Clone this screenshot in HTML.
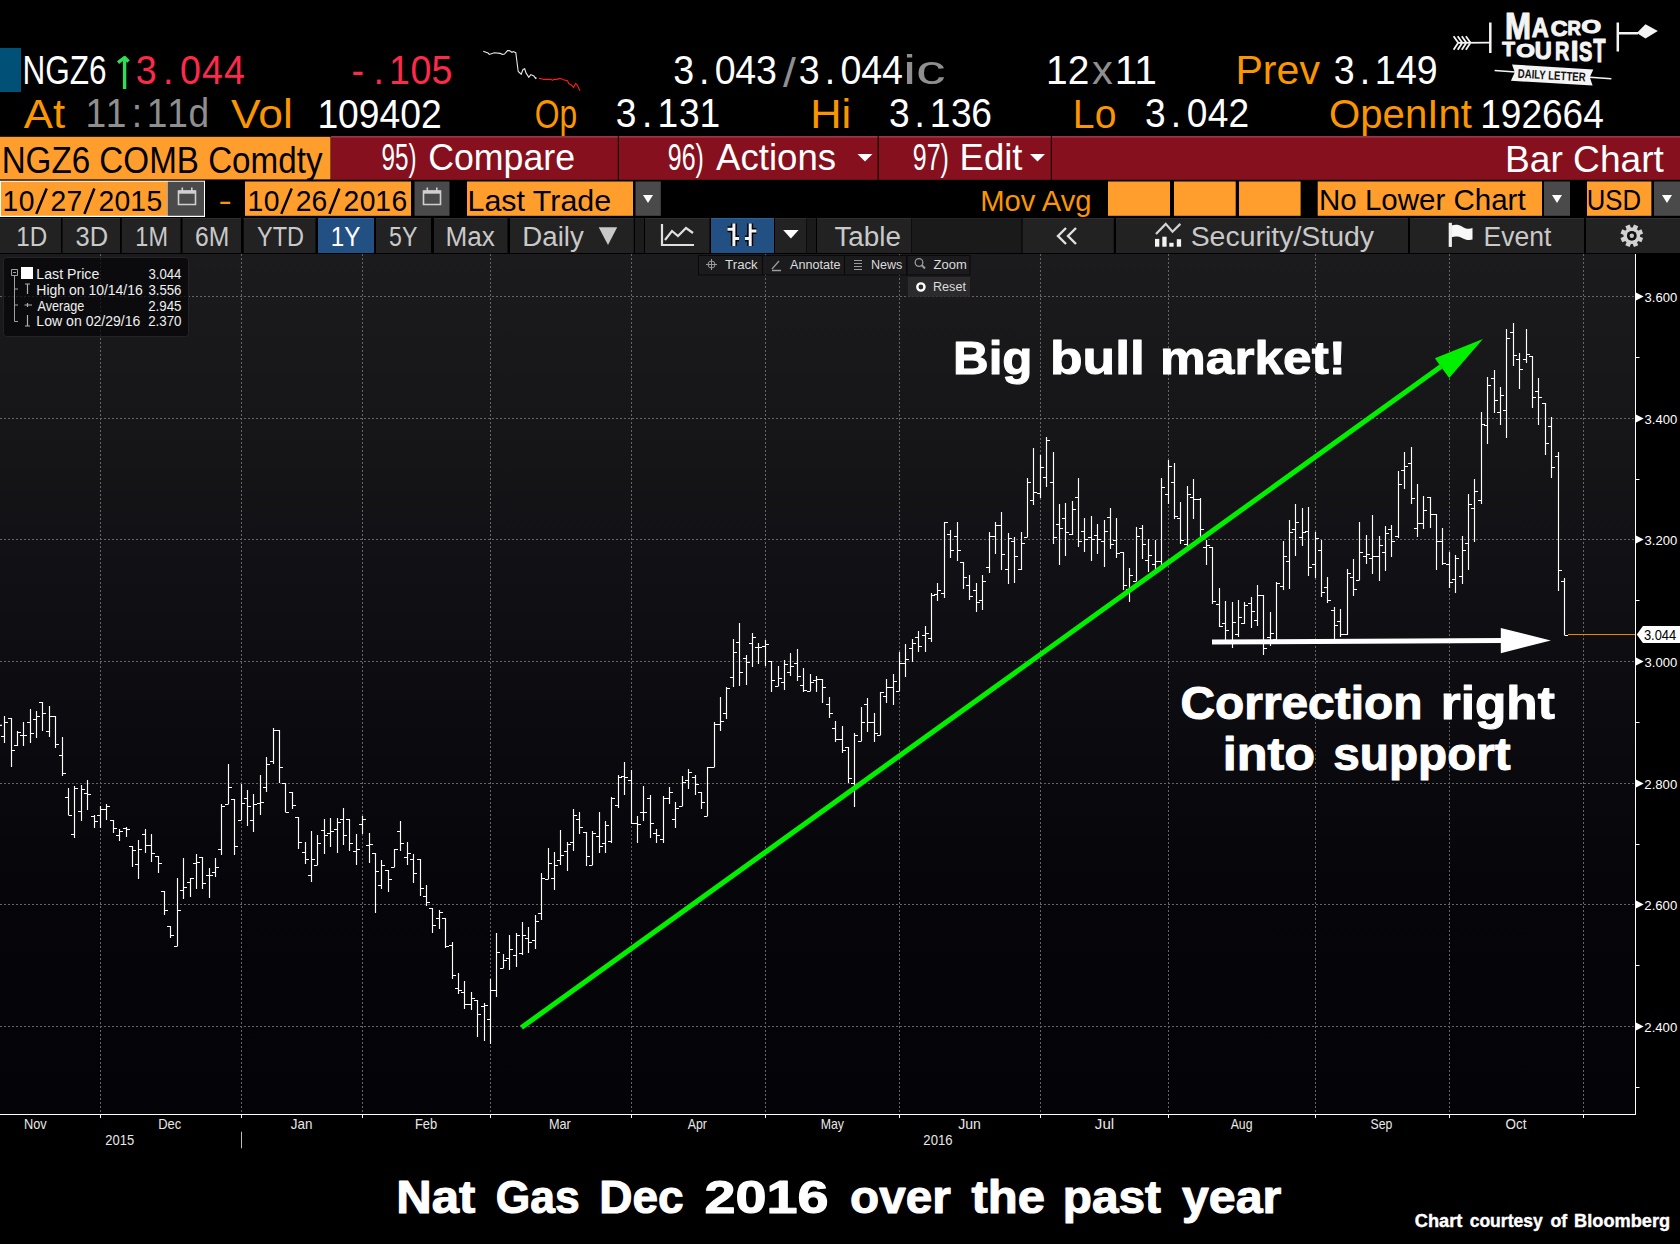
<!DOCTYPE html>
<html><head><meta charset="utf-8"><style>html,body{margin:0;padding:0;background:#000;overflow:hidden}svg{display:block}text{white-space:pre}</style></head>
<body><svg width="1680" height="1244" viewBox="0 0 1680 1244"><rect x="0.00" y="0.00" width="1680.00" height="1244.00" fill="#000" /><rect x="0.00" y="48.00" width="21.00" height="44.00" fill="#005077" /><text x="22.48" y="84.00" font-family="Liberation Sans, sans-serif" font-size="40.41" fill="#ffffff" textLength="84.06" lengthAdjust="spacingAndGlyphs">NGZ6</text><path d="M124.6 89 V58 M118 62.6 L124.6 57.6 L128.6 61.4" fill="none" stroke="#30dc58" stroke-width="3.4" stroke-linejoin="round"/><text x="146.10 175.27 193.52 217.24 240.95" y="84.00" font-family="Liberation Sans, sans-serif" font-size="40.41" fill="#ff2a4b" transform="scale(0.9300,1)">3.044</text><text x="377.95 401.62 418.22 441.48 463.93" y="84.00" font-family="Liberation Sans, sans-serif" font-size="40.41" fill="#ff2a4b" transform="scale(0.9300,1)">-.105</text><text x="723.95 751.66 768.46 790.71 812.97" y="84.00" font-family="Liberation Sans, sans-serif" font-size="40.41" fill="#ffffff" transform="scale(0.9300,1)">3.043</text><text x="783.00" y="87.00" font-family="Liberation Sans, sans-serif" font-size="40.41" fill="#8f8f8f" textLength="12.90" lengthAdjust="spacingAndGlyphs">/</text><text x="859.00 886.83 903.74 926.11 948.48" y="84.00" font-family="Liberation Sans, sans-serif" font-size="40.41" fill="#ffffff" transform="scale(0.9300,1)">3.044</text><text x="902.94" y="84.00" font-family="Liberation Sans, sans-serif" font-size="40.41" fill="#8f8f8f" textLength="42.85" lengthAdjust="spacingAndGlyphs">ic</text><text x="1046.03" y="84.00" font-family="Liberation Sans, sans-serif" font-size="40.41" fill="#ffffff" textLength="43.27" lengthAdjust="spacingAndGlyphs">12</text><text x="1092.08" y="84.00" font-family="Liberation Sans, sans-serif" font-size="40.41" fill="#8f8f8f" textLength="20.83" lengthAdjust="spacingAndGlyphs">x</text><text x="1114.65" y="84.00" font-family="Liberation Sans, sans-serif" font-size="40.41" fill="#ffffff" textLength="42.22" lengthAdjust="spacingAndGlyphs">11</text><text x="1235.46" y="84.00" font-family="Liberation Sans, sans-serif" font-size="40.41" fill="#f99600" textLength="84.54" lengthAdjust="spacingAndGlyphs">Prev</text><text x="1434.27 1462.03 1478.27 1501.18 1523.48" y="84.00" font-family="Liberation Sans, sans-serif" font-size="40.41" fill="#ffffff" transform="scale(0.9300,1)">3.149</text><path d="M483.2 51.3 L488.0 53.0 L489.4 54.4 L494.2 52.7 L500.3 53.4 L502.4 54.4 L504.5 54.0 L507.5 50.6 L509.2 50.6 L512.0 52.3 L513.4 51.6 L515.8 52.7 L516.8 60.5 L518.2 71.5 L521.2 74.2 L523.0 69.5 L524.7 68.8 L526.0 72.9 L528.8 77.3 L530.8 74.6 L533.9 76.0 L535.6 78.4 L536.6 77.7" fill="none" stroke="#e8e8e8" stroke-width="1.1" /><path d="M539.0 78.4 L541.4 78.7 L543.5 79.4 L551.0 79.4 L552.4 80.4 L553.8 79.4 L557.2 79.4 L559.2 78.4 L561.3 78.7 L563.4 79.7 L567.5 80.8 L568.8 83.8 L570.9 84.5 L573.6 87.3 L575.7 83.5 L577.7 85.9 L579.8 90.7" fill="none" stroke="#ff1a1a" stroke-width="1.1" /><text x="23.80" y="127.50" font-family="Liberation Sans, sans-serif" font-size="39.97" fill="#f99600" textLength="41.31" lengthAdjust="spacingAndGlyphs">At</text><text x="91.83 113.82 141.81 157.81 179.80 202.59" y="127.50" font-family="Liberation Sans, sans-serif" font-size="39.97" fill="#8f8f8f" transform="scale(0.9300,1)">11:11d</text><text x="231.00" y="127.50" font-family="Liberation Sans, sans-serif" font-size="39.97" fill="#f99600" textLength="61.76" lengthAdjust="spacingAndGlyphs">Vol</text><text x="317.39" y="127.50" font-family="Liberation Sans, sans-serif" font-size="39.97" fill="#ffffff" textLength="124.33" lengthAdjust="spacingAndGlyphs">109402</text><text x="534.73" y="127.50" font-family="Liberation Sans, sans-serif" font-size="39.97" fill="#f99600" textLength="42.42" lengthAdjust="spacingAndGlyphs">Op</text><text x="662.24 690.28 706.92 730.16 752.20" y="127.50" font-family="Liberation Sans, sans-serif" font-size="39.97" fill="#ffffff" transform="scale(0.9300,1)">3.131</text><text x="810.23" y="127.50" font-family="Liberation Sans, sans-serif" font-size="39.97" fill="#f99600" textLength="40.97" lengthAdjust="spacingAndGlyphs">Hi</text><text x="955.79 983.41 999.63 1022.45 1044.27" y="127.50" font-family="Liberation Sans, sans-serif" font-size="39.97" fill="#ffffff" transform="scale(0.9300,1)">3.136</text><text x="1072.87" y="127.50" font-family="Liberation Sans, sans-serif" font-size="39.97" fill="#f99600" textLength="43.55" lengthAdjust="spacingAndGlyphs">Lo</text><text x="1231.06 1258.99 1276.14 1298.67 1321.01" y="127.50" font-family="Liberation Sans, sans-serif" font-size="39.97" fill="#ffffff" transform="scale(0.9300,1)">3.042</text><text x="1329.09" y="127.50" font-family="Liberation Sans, sans-serif" font-size="39.97" fill="#f99600" textLength="142.82" lengthAdjust="spacingAndGlyphs">OpenInt</text><text x="1480.21" y="127.50" font-family="Liberation Sans, sans-serif" font-size="39.97" fill="#ffffff" textLength="123.56" lengthAdjust="spacingAndGlyphs">192664</text><rect x="0.00" y="136.80" width="330.50" height="42.60" fill="#ff9e2c" /><rect x="331.00" y="136.20" width="1349.00" height="43.60" fill="#87101e" /><rect x="331.00" y="136.20" width="1349.00" height="1.30" fill="#a04556" /><rect x="617.80" y="136.20" width="1.20" height="43.60" fill="#160205" /><rect x="877.60" y="136.20" width="1.20" height="43.60" fill="#160205" /><rect x="1050.80" y="136.20" width="1.20" height="43.60" fill="#160205" /><text x="1.65" y="172.80" font-family="Liberation Sans, sans-serif" font-size="37.79" fill="#000" textLength="320.85" lengthAdjust="spacingAndGlyphs">NGZ6 COMB Comdty</text><text x="381.43" y="170.20" font-family="Liberation Sans, sans-serif" font-size="36.77" fill="#ffffff" textLength="35.06" lengthAdjust="spacingAndGlyphs">95)</text><text x="428.22" y="170.20" font-family="Liberation Sans, sans-serif" font-size="36.77" fill="#ffffff" textLength="146.83" lengthAdjust="spacingAndGlyphs">Compare</text><text x="667.75" y="170.20" font-family="Liberation Sans, sans-serif" font-size="36.77" fill="#ffffff" textLength="36.07" lengthAdjust="spacingAndGlyphs">96)</text><text x="716.00" y="170.20" font-family="Liberation Sans, sans-serif" font-size="36.77" fill="#ffffff" textLength="120.10" lengthAdjust="spacingAndGlyphs">Actions</text><path d="M857.5 154 L872.5 154 L865 161.5 Z" fill="#ffffff" stroke="none" stroke-width="1" /><text x="912.75" y="170.20" font-family="Liberation Sans, sans-serif" font-size="36.77" fill="#ffffff" textLength="36.07" lengthAdjust="spacingAndGlyphs">97)</text><text x="959.58" y="170.20" font-family="Liberation Sans, sans-serif" font-size="36.77" fill="#ffffff" textLength="62.84" lengthAdjust="spacingAndGlyphs">Edit</text><path d="M1030 154 L1045 154 L1037.5 161.5 Z" fill="#ffffff" stroke="none" stroke-width="1" /><text x="1505.03" y="172.30" font-family="Liberation Sans, sans-serif" font-size="36.34" fill="#ffffff" textLength="158.89" lengthAdjust="spacingAndGlyphs">Bar Chart</text><rect x="0.00" y="180.70" width="205.00" height="36.30" fill="#ffffff" /><rect x="1.00" y="181.70" width="166.00" height="34.10" fill="#ff9e2c" /><rect x="167.50" y="181.70" width="36.50" height="34.10" fill="#4a4a4a" /><path d="M178.5 191 h17 v13.5 h-17 Z" fill="none" stroke="#d0d0d0" stroke-width="1.6" /><rect x="178.50" y="190.50" width="17.00" height="3.20" fill="#d0d0d0" /><rect x="181.50" y="187.50" width="1.60" height="4.00" fill="#d0d0d0" /><rect x="191.00" y="187.50" width="1.60" height="4.00" fill="#d0d0d0" /><text x="2.57 20.01 45.27 53.83 70.81 96.22 104.78 121.92 138.45 155.74" y="210.70" font-family="Liberation Sans, sans-serif" font-size="30.09" fill="#000" transform="scale(0.9400,1)">10 27 2015</text><text x="218.40" y="210.70" font-family="Liberation Sans, sans-serif" font-size="30.09" fill="#f99600" textLength="13.32" lengthAdjust="spacingAndGlyphs">-</text><rect x="245.00" y="181.50" width="166.00" height="34.30" fill="#ff9e2c" /><rect x="414.50" y="181.50" width="35.00" height="34.30" fill="#4a4a4a" /><path d="M423.5 191 h17 v13.5 h-17 Z" fill="none" stroke="#d0d0d0" stroke-width="1.6" /><rect x="423.50" y="190.50" width="17.00" height="3.20" fill="#d0d0d0" /><rect x="426.50" y="187.50" width="1.60" height="4.00" fill="#d0d0d0" /><rect x="436.00" y="187.50" width="1.60" height="4.00" fill="#d0d0d0" /><text x="263.21 280.67 305.94 314.52 331.37 356.95 365.52 382.67 399.22 416.38" y="210.70" font-family="Liberation Sans, sans-serif" font-size="30.09" fill="#000" transform="scale(0.9400,1)">10 26 2016</text><path d="M36.3 213.9 L46.7 188.5 M84.4 213.9 L94.4 188.5" fill="none" stroke="#000" stroke-width="2.5" /><path d="M281.3 213.9 L291.7 188.5 M329.4 213.9 L339.4 188.5" fill="none" stroke="#000" stroke-width="2.5" /><rect x="467.00" y="181.50" width="166.00" height="34.30" fill="#ff9e2c" /><rect x="635.50" y="181.50" width="25.30" height="34.30" fill="#4a4a4a" /><path d="M643 195 L653 195 L648 203 Z" fill="#ffffff" stroke="none" stroke-width="1" /><text x="467.58" y="210.70" font-family="Liberation Sans, sans-serif" font-size="30.09" fill="#000" textLength="143.51" lengthAdjust="spacingAndGlyphs">Last Trade</text><text x="980.20" y="210.70" font-family="Liberation Sans, sans-serif" font-size="30.09" fill="#f99600" textLength="111.42" lengthAdjust="spacingAndGlyphs">Mov Avg</text><rect x="1108.00" y="181.50" width="62.00" height="34.30" fill="#ff9e2c" /><rect x="1174.00" y="181.50" width="61.70" height="34.30" fill="#ff9e2c" /><rect x="1239.00" y="181.50" width="61.60" height="34.30" fill="#ff9e2c" /><rect x="1317.70" y="181.50" width="224.30" height="34.30" fill="#ff9e2c" /><rect x="1544.00" y="181.50" width="26.00" height="34.30" fill="#4a4a4a" /><path d="M1552 195 L1562 195 L1557 203 Z" fill="#ffffff" stroke="none" stroke-width="1" /><text x="1319.04" y="210.00" font-family="Liberation Sans, sans-serif" font-size="30.09" fill="#000" textLength="206.60" lengthAdjust="spacingAndGlyphs">No Lower Chart</text><rect x="1587.00" y="181.50" width="64.40" height="34.30" fill="#ff9e2c" /><rect x="1654.00" y="181.50" width="26.00" height="34.30" fill="#4a4a4a" /><path d="M1662 195 L1672 195 L1667 203 Z" fill="#ffffff" stroke="none" stroke-width="1" /><text x="1586.80" y="210.00" font-family="Liberation Sans, sans-serif" font-size="30.09" fill="#000" textLength="54.28" lengthAdjust="spacingAndGlyphs">USD</text><rect x="0.00" y="218.00" width="61.00" height="35.00" fill="#222222" /><rect x="0.00" y="218.00" width="61.00" height="1.00" fill="#2e2e2e" /><rect x="62.50" y="218.00" width="57.50" height="35.00" fill="#222222" /><rect x="62.50" y="218.00" width="57.50" height="1.00" fill="#2e2e2e" /><rect x="121.75" y="218.00" width="58.75" height="35.00" fill="#222222" /><rect x="121.75" y="218.00" width="58.75" height="1.00" fill="#2e2e2e" /><rect x="182.50" y="218.00" width="58.50" height="35.00" fill="#222222" /><rect x="182.50" y="218.00" width="58.50" height="1.00" fill="#2e2e2e" /><rect x="243.75" y="218.00" width="71.75" height="35.00" fill="#222222" /><rect x="243.75" y="218.00" width="71.75" height="1.00" fill="#2e2e2e" /><rect x="318.00" y="218.00" width="56.00" height="35.00" fill="#235082" /><rect x="318.00" y="218.00" width="56.00" height="1.00" fill="#2d5f98" /><rect x="376.00" y="218.00" width="55.00" height="35.00" fill="#222222" /><rect x="376.00" y="218.00" width="55.00" height="1.00" fill="#2e2e2e" /><rect x="434.00" y="218.00" width="73.50" height="35.00" fill="#222222" /><rect x="434.00" y="218.00" width="73.50" height="1.00" fill="#2e2e2e" /><rect x="510.00" y="218.00" width="123.75" height="35.00" fill="#222222" /><rect x="510.00" y="218.00" width="123.75" height="1.00" fill="#2e2e2e" /><rect x="635.00" y="218.00" width="9.00" height="35.00" fill="#1c1c1c" /><rect x="635.00" y="218.00" width="9.00" height="1.00" fill="#222" /><rect x="645.00" y="218.00" width="64.50" height="35.00" fill="#222222" /><rect x="645.00" y="218.00" width="64.50" height="1.00" fill="#2e2e2e" /><rect x="711.00" y="218.00" width="63.00" height="35.00" fill="#235082" /><rect x="711.00" y="218.00" width="63.00" height="1.00" fill="#2d5f98" /><rect x="775.00" y="218.00" width="31.00" height="35.00" fill="#222222" /><rect x="775.00" y="218.00" width="31.00" height="1.00" fill="#2e2e2e" /><rect x="806.50" y="218.00" width="9.50" height="35.00" fill="#1a1a1a" /><rect x="806.50" y="218.00" width="9.50" height="1.00" fill="#222" /><rect x="817.00" y="218.00" width="94.00" height="35.00" fill="#222222" /><rect x="817.00" y="218.00" width="94.00" height="1.00" fill="#2e2e2e" /><rect x="911.50" y="218.00" width="110.00" height="35.00" fill="#1a1a1a" /><rect x="911.50" y="218.00" width="110.00" height="1.00" fill="#222" /><rect x="1022.50" y="218.00" width="91.25" height="35.00" fill="#222222" /><rect x="1022.50" y="218.00" width="91.25" height="1.00" fill="#2e2e2e" /><rect x="1116.00" y="218.00" width="292.00" height="35.00" fill="#222222" /><rect x="1116.00" y="218.00" width="292.00" height="1.00" fill="#2e2e2e" /><rect x="1410.00" y="218.00" width="174.00" height="35.00" fill="#222222" /><rect x="1410.00" y="218.00" width="174.00" height="1.00" fill="#2e2e2e" /><rect x="1586.00" y="218.00" width="94.00" height="35.00" fill="#222222" /><rect x="1586.00" y="218.00" width="94.00" height="1.00" fill="#2e2e2e" /><text x="16.30" y="245.50" font-family="Liberation Sans, sans-serif" font-size="28.34" fill="#c9c9c9" textLength="30.97" lengthAdjust="spacingAndGlyphs">1D</text><text x="75.49" y="245.50" font-family="Liberation Sans, sans-serif" font-size="28.34" fill="#c9c9c9" textLength="32.59" lengthAdjust="spacingAndGlyphs">3D</text><text x="135.36" y="245.50" font-family="Liberation Sans, sans-serif" font-size="28.34" fill="#c9c9c9" textLength="32.61" lengthAdjust="spacingAndGlyphs">1M</text><text x="195.02" y="245.50" font-family="Liberation Sans, sans-serif" font-size="28.34" fill="#c9c9c9" textLength="34.29" lengthAdjust="spacingAndGlyphs">6M</text><text x="257.03" y="245.50" font-family="Liberation Sans, sans-serif" font-size="28.34" fill="#c9c9c9" textLength="46.96" lengthAdjust="spacingAndGlyphs">YTD</text><text x="389.07" y="245.50" font-family="Liberation Sans, sans-serif" font-size="28.34" fill="#c9c9c9" textLength="28.32" lengthAdjust="spacingAndGlyphs">5Y</text><text x="445.41" y="245.50" font-family="Liberation Sans, sans-serif" font-size="28.34" fill="#c9c9c9" textLength="49.35" lengthAdjust="spacingAndGlyphs">Max</text><text x="522.29" y="245.50" font-family="Liberation Sans, sans-serif" font-size="28.34" fill="#c9c9c9" textLength="61.46" lengthAdjust="spacingAndGlyphs">Daily</text><text x="834.44" y="245.50" font-family="Liberation Sans, sans-serif" font-size="28.34" fill="#c9c9c9" textLength="66.56" lengthAdjust="spacingAndGlyphs">Table</text><text x="1190.66" y="245.50" font-family="Liberation Sans, sans-serif" font-size="28.34" fill="#c9c9c9" textLength="183.34" lengthAdjust="spacingAndGlyphs">Security/Study</text><text x="1483.58" y="245.50" font-family="Liberation Sans, sans-serif" font-size="28.34" fill="#c9c9c9" textLength="67.76" lengthAdjust="spacingAndGlyphs">Event</text><text x="330.81" y="245.50" font-family="Liberation Sans, sans-serif" font-size="28.34" fill="#ffffff" textLength="29.61" lengthAdjust="spacingAndGlyphs">1Y</text><path d="M598.7 227.3 L617.2 227.3 L608 245 Z" fill="#c9c9c9" stroke="none" stroke-width="1" /><path d="M662 224 V245 H694 M665 240 L672 231 L678 236 L686 228 L693 233" fill="none" stroke="#e0e0e0" stroke-width="2.2" /><path d="M733.9 223.5 V246 M727.5 229.2 H733.9 M733.9 238.5 H739 M750.2 223.5 V246 M745 238.5 H750.2 M750.2 231 H756.4" fill="none" stroke="#000" stroke-width="6" /><path d="M733.9 223.5 V246 M727.5 229.2 H733.9 M733.9 238.5 H739 M750.2 223.5 V246 M745 238.5 H750.2 M750.2 231 H756.4" fill="none" stroke="#f4f4f4" stroke-width="3" /><path d="M783.2 229.9 L798.6 229.9 L790.9 238.5 Z" fill="#ffffff" stroke="none" stroke-width="1" /><path d="M1066 228 L1058 236 L1066 244 M1076 228 L1068 236 L1076 244" fill="none" stroke="#e0e0e0" stroke-width="2.4" /><path d="M1156 233.9 L1165.7 223.9 L1172.5 231.7 L1180.4 223.9" fill="none" stroke="#d4d4d4" stroke-width="2.2" stroke-linejoin="miter"/><rect x="1155.00" y="238.90" width="4.30" height="7.80" fill="#f4f4f4" /><rect x="1162.30" y="236.70" width="4.30" height="10.00" fill="#f4f4f4" /><rect x="1169.30" y="242.80" width="4.30" height="3.90" fill="#f4f4f4" /><rect x="1176.80" y="239.20" width="4.30" height="7.50" fill="#f4f4f4" /><rect x="1448.70" y="222.80" width="3.20" height="24.10" fill="#f0f0f0" /><path d="M1451.5 225.4 C1455 224.2 1459 224.4 1462 226.4 C1465 228.6 1469 229.4 1472.5 228 V239.6 C1469 240.6 1465 239.8 1462 238 C1459 236.4 1455 236.2 1451.5 237.2 Z" fill="#f8f8f8" stroke="none" stroke-width="1" /><g transform="translate(1631.8 235.8)"><circle r="8.3" fill="#d2d2d2"/><rect x="-2.3" y="-11.3" width="4.6" height="6" fill="#d2d2d2" transform="rotate(22.5)"/><rect x="-2.3" y="-11.3" width="4.6" height="6" fill="#d2d2d2" transform="rotate(67.5)"/><rect x="-2.3" y="-11.3" width="4.6" height="6" fill="#d2d2d2" transform="rotate(112.5)"/><rect x="-2.3" y="-11.3" width="4.6" height="6" fill="#d2d2d2" transform="rotate(157.5)"/><rect x="-2.3" y="-11.3" width="4.6" height="6" fill="#d2d2d2" transform="rotate(202.5)"/><rect x="-2.3" y="-11.3" width="4.6" height="6" fill="#d2d2d2" transform="rotate(247.5)"/><rect x="-2.3" y="-11.3" width="4.6" height="6" fill="#d2d2d2" transform="rotate(292.5)"/><rect x="-2.3" y="-11.3" width="4.6" height="6" fill="#d2d2d2" transform="rotate(337.5)"/><circle r="4.9" fill="#111"/><circle r="2.2" fill="#c8c8c8"/></g><defs><linearGradient id="pg" x1="0" y1="0" x2="0" y2="1"><stop offset="0" stop-color="rgb(27,27,30)"/><stop offset="0.23" stop-color="rgb(21,21,24)"/><stop offset="0.5" stop-color="rgb(13,12,17)"/><stop offset="0.73" stop-color="rgb(6,5,10)"/><stop offset="1" stop-color="rgb(4,4,8)"/></linearGradient></defs><rect x="0.00" y="254.00" width="1635.00" height="860.00" fill="url(#pg)" /><rect x="0.00" y="1114.00" width="1680.00" height="130.00" fill="#000" /><rect x="1635.00" y="254.00" width="45.00" height="860.00" fill="#000" /><line x1="0.00" y1="296.50" x2="1635.00" y2="296.50" stroke="#656565" stroke-width="1" stroke-dasharray="2 2"/><line x1="0.00" y1="418.50" x2="1635.00" y2="418.50" stroke="#656565" stroke-width="1" stroke-dasharray="2 2"/><line x1="0.00" y1="539.50" x2="1635.00" y2="539.50" stroke="#656565" stroke-width="1" stroke-dasharray="2 2"/><line x1="0.00" y1="661.50" x2="1635.00" y2="661.50" stroke="#656565" stroke-width="1" stroke-dasharray="2 2"/><line x1="0.00" y1="783.50" x2="1635.00" y2="783.50" stroke="#656565" stroke-width="1" stroke-dasharray="2 2"/><line x1="0.00" y1="904.50" x2="1635.00" y2="904.50" stroke="#656565" stroke-width="1" stroke-dasharray="2 2"/><line x1="0.00" y1="1026.50" x2="1635.00" y2="1026.50" stroke="#656565" stroke-width="1" stroke-dasharray="2 2"/><line x1="100.50" y1="254.00" x2="100.50" y2="1114.00" stroke="#656565" stroke-width="1" stroke-dasharray="2 2"/><line x1="241.50" y1="254.00" x2="241.50" y2="1114.00" stroke="#656565" stroke-width="1" stroke-dasharray="2 2"/><line x1="362.50" y1="254.00" x2="362.50" y2="1114.00" stroke="#656565" stroke-width="1" stroke-dasharray="2 2"/><line x1="490.50" y1="254.00" x2="490.50" y2="1114.00" stroke="#656565" stroke-width="1" stroke-dasharray="2 2"/><line x1="631.50" y1="254.00" x2="631.50" y2="1114.00" stroke="#656565" stroke-width="1" stroke-dasharray="2 2"/><line x1="765.50" y1="254.00" x2="765.50" y2="1114.00" stroke="#656565" stroke-width="1" stroke-dasharray="2 2"/><line x1="899.50" y1="254.00" x2="899.50" y2="1114.00" stroke="#656565" stroke-width="1" stroke-dasharray="2 2"/><line x1="1040.50" y1="254.00" x2="1040.50" y2="1114.00" stroke="#656565" stroke-width="1" stroke-dasharray="2 2"/><line x1="1168.50" y1="254.00" x2="1168.50" y2="1114.00" stroke="#656565" stroke-width="1" stroke-dasharray="2 2"/><line x1="1315.50" y1="254.00" x2="1315.50" y2="1114.00" stroke="#656565" stroke-width="1" stroke-dasharray="2 2"/><line x1="1449.50" y1="254.00" x2="1449.50" y2="1114.00" stroke="#656565" stroke-width="1" stroke-dasharray="2 2"/><line x1="1583.50" y1="254.00" x2="1583.50" y2="1114.00" stroke="#656565" stroke-width="1" stroke-dasharray="2 2"/><rect x="3.50" y="257.50" width="185.00" height="79.00" fill="rgba(6,6,9,0.72)" rx="3" stroke="#242428" stroke-width="1"/><rect x="21.00" y="267.00" width="12.00" height="12.00" fill="#ffffff" /><path d="M11.5 269.5 h6 v6 h-6 Z M13 272.5 h3" fill="none" stroke="#a0a0a0" stroke-width="1" /><path d="M14.5 275.5 V321.5 H18 M14.5 289 H18 M14.5 305 H18" fill="none" stroke="#a0a0a0" stroke-width="1" /><path d="M27.5 284 V294 M25 284 H30 M24.5 305 H32 M27.5 303 V307 M27.5 315 V326 M25 326 H30" fill="none" stroke="#b0b0b0" stroke-width="1.2" /><text x="36.37" y="278.60" font-family="Liberation Sans, sans-serif" font-size="13.81" fill="#f0f0f0" textLength="62.94" lengthAdjust="spacingAndGlyphs">Last Price</text><text x="148.41" y="278.60" font-family="Liberation Sans, sans-serif" font-size="13.81" fill="#f0f0f0" textLength="32.94" lengthAdjust="spacingAndGlyphs">3.044</text><text x="36.38" y="294.60" font-family="Liberation Sans, sans-serif" font-size="13.81" fill="#f0f0f0" textLength="106.42" lengthAdjust="spacingAndGlyphs">High on 10/14/16</text><text x="148.40" y="294.60" font-family="Liberation Sans, sans-serif" font-size="13.81" fill="#f0f0f0" textLength="33.07" lengthAdjust="spacingAndGlyphs">3.556</text><text x="37.50" y="310.70" font-family="Liberation Sans, sans-serif" font-size="13.81" fill="#f0f0f0" textLength="46.86" lengthAdjust="spacingAndGlyphs">Average</text><text x="148.13" y="310.70" font-family="Liberation Sans, sans-serif" font-size="13.81" fill="#f0f0f0" textLength="33.35" lengthAdjust="spacingAndGlyphs">2.945</text><text x="36.37" y="326.20" font-family="Liberation Sans, sans-serif" font-size="13.81" fill="#f0f0f0" textLength="104.03" lengthAdjust="spacingAndGlyphs">Low on 02/29/16</text><text x="148.13" y="326.20" font-family="Liberation Sans, sans-serif" font-size="13.81" fill="#f0f0f0" textLength="33.35" lengthAdjust="spacingAndGlyphs">2.370</text><rect x="698.00" y="255.00" width="272.40" height="20.40" fill="rgba(5,5,5,0.8)" /><rect x="699.00" y="256.00" width="63.00" height="18.50" fill="rgba(34,34,38,0.72)" /><rect x="763.00" y="256.00" width="81.00" height="18.50" fill="rgba(34,34,38,0.72)" /><rect x="845.00" y="256.00" width="61.00" height="18.50" fill="rgba(34,34,38,0.72)" /><rect x="907.50" y="256.00" width="62.00" height="18.50" fill="rgba(34,34,38,0.72)" /><rect x="907.90" y="277.00" width="62.10" height="19.80" fill="rgba(44,44,48,0.92)" /><text x="725.14" y="268.75" font-family="Liberation Sans, sans-serif" font-size="13.08" fill="#dcdcdc" textLength="32.63" lengthAdjust="spacingAndGlyphs">Track</text><text x="790.00" y="268.75" font-family="Liberation Sans, sans-serif" font-size="13.08" fill="#dcdcdc" textLength="50.46" lengthAdjust="spacingAndGlyphs">Annotate</text><text x="871.00" y="268.75" font-family="Liberation Sans, sans-serif" font-size="13.08" fill="#dcdcdc" textLength="31.38" lengthAdjust="spacingAndGlyphs">News</text><text x="933.61" y="268.75" font-family="Liberation Sans, sans-serif" font-size="13.08" fill="#dcdcdc" textLength="33.21" lengthAdjust="spacingAndGlyphs">Zoom</text><text x="932.99" y="290.70" font-family="Liberation Sans, sans-serif" font-size="13.08" fill="#dcdcdc" textLength="32.98" lengthAdjust="spacingAndGlyphs">Reset</text><path d="M706 264.5 H717 M711.5 259 V270" fill="none" stroke="#9a9a9a" stroke-width="1" /><circle cx="711.5" cy="264.5" r="3.5" fill="none" stroke="#9a9a9a" stroke-width="1"/><path d="M772 269 L779 261 M772 270.5 H781" fill="none" stroke="#9a9a9a" stroke-width="1.3" /><path d="M854 260.5 H862 M854 263.5 H862 M854 266.5 H862 M854 269.5 H862" fill="none" stroke="#9a9a9a" stroke-width="1.2" /><circle cx="919" cy="262.5" r="3.8" fill="none" stroke="#9a9a9a" stroke-width="1.3"/><path d="M921.8 265.3 L925 268.5" fill="none" stroke="#9a9a9a" stroke-width="2" /><circle cx="920.9" cy="287" r="3.6" fill="none" stroke="#ffffff" stroke-width="2.4"/><path d="M-1.5 700.0V760.0M-5.0 740.0H-1.5M-1.5 725.4H2.0M4.5 716.0V743.0M1.0 736.5H4.5M4.5 722.5H8.0M11.5 718.0V767.0M8.0 718.5H11.5M11.5 750.5H15.0M17.5 731.0V746.0M14.0 745.5H17.5M17.5 732.5H21.0M23.5 722.0V746.0M20.0 735.5H23.5M23.5 735.5H27.0M30.5 709.0V743.0M27.0 722.5H30.5M30.5 733.5H34.0M36.5 711.0V738.0M33.0 719.5H36.5M36.5 716.5H40.0M42.5 702.0V731.0M39.0 702.5H42.5M42.5 713.5H46.0M49.5 706.0V737.0M46.0 731.5H49.5M49.5 716.5H53.0M55.5 716.0V748.0M52.0 716.5H55.5M55.5 744.5H59.0M62.5 737.0V776.0M59.0 755.5H62.5M62.5 773.5H66.0M68.5 788.0V815.0M65.0 797.5H68.5M68.5 815.5H72.0M74.5 786.0V838.0M71.0 834.5H74.5M74.5 788.5H78.0M81.5 785.0V821.0M78.0 811.5H81.5M81.5 789.5H85.0M87.5 780.0V810.0M84.0 793.5H87.5M87.5 794.5H91.0M94.5 815.0V828.0M91.0 816.5H94.5M94.5 821.5H98.0M100.5 806.0V828.0M97.0 815.5H100.5M100.5 809.5H104.0M106.5 804.0V820.0M103.0 809.5H106.5M106.5 806.5H110.0M113.5 820.0V833.0M110.0 820.5H113.5M113.5 828.5H117.0M119.5 829.0V841.0M116.0 835.5H119.5M119.5 831.5H123.0M126.5 827.0V837.0M123.0 828.5H126.5M126.5 829.5H130.0M132.5 846.0V867.0M129.0 846.5H132.5M132.5 850.5H136.0M138.5 840.0V879.0M135.0 864.5H138.5M138.5 849.5H142.0M145.5 829.0V853.0M142.0 834.5H145.5M145.5 845.5H149.0M151.5 834.0V862.0M148.0 845.5H151.5M151.5 853.5H155.0M158.5 856.0V873.0M155.0 856.5H158.5M158.5 863.5H162.0M164.5 891.0V915.0M161.0 891.5H164.5M164.5 910.5H168.0M170.5 926.0V938.0M167.0 926.5H170.5M170.5 935.5H174.0M177.5 878.0V946.0M174.0 946.5H177.5M177.5 910.5H181.0M183.5 858.0V899.0M180.0 890.5H183.5M183.5 887.5H187.0M190.5 878.0V897.0M187.0 882.5H190.5M190.5 878.5H194.0M196.5 854.0V889.0M193.0 863.5H196.5M196.5 862.5H200.0M202.5 857.0V889.0M199.0 857.5H202.5M202.5 883.5H206.0M209.5 868.0V898.0M206.0 875.5H209.5M209.5 875.5H213.0M215.5 858.0V877.0M212.0 872.5H215.5M215.5 867.5H219.0M221.5 804.0V855.0M218.0 849.5H221.5M221.5 806.5H225.0M228.5 764.0V804.0M225.0 804.5H228.5M228.5 787.5H232.0M234.5 799.0V855.0M231.0 799.5H234.5M234.5 846.5H238.0M241.5 784.0V820.0M238.0 820.5H241.5M241.5 803.5H245.0M247.5 790.0V826.0M244.0 798.5H247.5M247.5 806.5H251.0M253.5 794.0V832.0M250.0 820.5H253.5M253.5 804.5H257.0M260.5 775.0V815.0M257.0 803.5H260.5M260.5 802.5H264.0M266.5 757.0V792.0M263.0 787.5H266.5M266.5 764.5H270.0M273.5 728.0V764.0M270.0 761.5H273.5M273.5 730.5H277.0M279.5 730.0V783.0M276.0 730.5H279.5M279.5 767.5H283.0M285.5 783.0V812.0M282.0 783.5H285.5M285.5 812.5H289.0M292.5 792.0V809.0M289.0 792.5H292.5M292.5 805.5H296.0M298.5 817.0V849.0M295.0 817.5H298.5M298.5 842.5H302.0M305.5 842.0V864.0M302.0 852.5H305.5M305.5 859.5H309.0M311.5 831.0V882.0M308.0 875.5H311.5M311.5 859.5H315.0M317.5 835.0V865.0M314.0 865.5H317.5M317.5 843.5H321.0M324.5 819.0V854.0M321.0 830.5H324.5M324.5 835.5H328.0M330.5 818.0V847.0M327.0 833.5H330.5M330.5 831.5H334.0M337.5 818.0V853.0M334.0 829.5H337.5M337.5 822.5H341.0M343.5 808.0V845.0M340.0 819.5H343.5M343.5 835.5H347.0M349.5 819.0V851.0M346.0 819.5H349.5M349.5 843.5H353.0M356.5 834.0V865.0M353.0 851.5H356.5M356.5 849.5H360.0M362.5 816.0V834.0M359.0 824.5H362.5M362.5 819.5H366.0M369.5 833.0V863.0M366.0 845.5H369.5M369.5 844.5H373.0M375.5 853.0V913.0M372.0 853.5H375.5M375.5 871.5H379.0M381.5 860.0V889.0M378.0 885.5H381.5M381.5 865.5H385.0M388.5 870.0V892.0M385.0 870.5H388.5M388.5 879.5H392.0M394.5 849.0V867.0M391.0 867.5H394.5M394.5 849.5H398.0M400.5 821.0V851.0M397.0 831.5H400.5M400.5 843.5H404.0M407.5 842.0V865.0M404.0 857.5H407.5M407.5 853.5H411.0M413.5 854.0V883.0M410.0 859.5H413.5M413.5 873.5H417.0M420.5 859.0V896.0M417.0 859.5H420.5M420.5 888.5H424.0M426.5 885.0V906.0M423.0 896.5H426.5M426.5 902.5H430.0M432.5 908.0V933.0M429.0 908.5H432.5M432.5 925.5H436.0M439.5 910.0V929.0M436.0 918.5H439.5M439.5 912.5H443.0M445.5 918.0V948.0M442.0 918.5H445.5M445.5 946.5H449.0M452.5 942.0V979.0M449.0 945.5H452.5M452.5 975.5H456.0M458.5 973.0V994.0M455.0 988.5H458.5M458.5 990.5H462.0M464.5 981.0V1009.0M461.0 992.5H464.5M464.5 1004.5H468.0M471.5 992.0V1010.0M468.0 1004.5H471.5M471.5 998.5H475.0M477.5 1000.0V1037.0M474.0 1000.5H477.5M477.5 1014.5H481.0M484.5 1003.0V1041.0M481.0 1006.5H484.5M484.5 1005.5H488.0M490.5 979.0V1044.0M487.0 1019.5H490.5M490.5 990.5H494.0M496.5 933.0V997.0M493.0 990.5H496.5M496.5 952.5H500.0M503.5 954.0V968.0M500.0 968.5H503.5M503.5 960.5H507.0M509.5 935.0V970.0M506.0 958.5H509.5M509.5 949.5H513.0M516.5 933.0V967.0M513.0 955.5H516.5M516.5 935.5H520.0M522.5 922.0V955.0M519.0 953.5H522.5M522.5 935.5H526.0M528.5 927.0V953.0M525.0 938.5H528.5M528.5 942.5H532.0M535.5 915.0V949.0M532.0 940.5H535.5M535.5 921.5H539.0M541.5 873.0V920.0M538.0 913.5H541.5M541.5 878.5H545.0M548.5 848.0V879.0M545.0 879.5H548.5M548.5 863.5H552.0M554.5 852.0V890.0M551.0 878.5H554.5M554.5 865.5H558.0M560.5 830.0V865.0M557.0 860.5H560.5M560.5 855.5H564.0M567.5 842.0V871.0M564.0 851.5H567.5M567.5 844.5H571.0M573.5 809.0V851.0M570.0 842.5H573.5M573.5 815.5H577.0M579.5 812.0V834.0M576.0 819.5H579.5M579.5 827.5H583.0M586.5 832.0V866.0M583.0 832.5H586.5M586.5 856.5H590.0M592.5 831.0V865.0M589.0 865.5H592.5M592.5 833.5H596.0M599.5 812.0V853.0M596.0 836.5H599.5M599.5 846.5H603.0M605.5 821.0V853.0M602.0 843.5H605.5M605.5 825.5H609.0M611.5 797.0V843.0M608.0 841.5H611.5M611.5 798.5H615.0M618.5 775.0V808.0M615.0 805.5H618.5M618.5 777.5H622.0M624.5 762.0V795.0M621.0 776.5H624.5M624.5 777.5H628.0M631.5 770.0V824.0M628.0 780.5H631.5M631.5 823.5H635.0M637.5 816.0V843.0M634.0 823.5H637.5M637.5 824.5H641.0M643.5 786.0V821.0M640.0 812.5H643.5M643.5 812.5H647.0M650.5 795.0V838.0M647.0 798.5H650.5M650.5 823.5H654.0M656.5 829.0V843.0M653.0 833.5H656.5M656.5 835.5H660.0M663.5 796.0V843.0M660.0 839.5H663.5M663.5 798.5H667.0M669.5 787.0V804.0M666.0 798.5H669.5M669.5 792.5H673.0M675.5 802.0V828.0M672.0 819.5H675.5M675.5 808.5H679.0M682.5 776.0V806.0M679.0 806.5H682.5M682.5 782.5H686.0M688.5 769.0V789.0M685.0 780.5H688.5M688.5 772.5H692.0M695.5 775.0V795.0M692.0 777.5H695.5M695.5 784.5H699.0M701.5 792.0V809.0M698.0 792.5H701.5M701.5 802.5H705.0M707.5 767.0V816.0M704.0 816.5H707.5M707.5 767.5H711.0M714.5 722.0V767.0M711.0 767.5H714.5M714.5 724.5H718.0M720.5 697.0V731.0M717.0 724.5H720.5M720.5 721.5H724.0M726.5 687.0V719.0M723.0 713.5H726.5M726.5 688.5H730.0M733.5 639.0V687.0M730.0 677.5H733.5M733.5 652.5H737.0M739.5 623.0V686.0M736.0 642.5H739.5M739.5 672.5H743.0M746.5 655.0V685.0M743.0 658.5H746.5M746.5 662.5H750.0M752.5 633.0V667.0M749.0 643.5H752.5M752.5 637.5H756.0M758.5 643.0V664.0M755.0 647.5H758.5M758.5 647.5H762.0M765.5 640.0V666.0M762.0 646.5H765.5M765.5 644.5H769.0M771.5 661.0V692.0M768.0 661.5H771.5M771.5 680.5H775.0M778.5 666.0V686.0M775.0 686.5H778.5M778.5 678.5H782.0M784.5 660.0V690.0M781.0 682.5H784.5M784.5 664.5H788.0M790.5 653.0V676.0M787.0 672.5H790.5M790.5 666.5H794.0M797.5 649.0V681.0M794.0 663.5H797.5M797.5 676.5H801.0M803.5 668.0V692.0M800.0 685.5H803.5M803.5 690.5H807.0M810.5 674.0V691.0M807.0 691.5H810.5M810.5 682.5H814.0M816.5 676.0V692.0M813.0 680.5H816.5M816.5 679.5H820.0M822.5 679.0V703.0M819.0 679.5H822.5M822.5 687.5H826.0M829.5 697.0V718.0M826.0 704.5H829.5M829.5 713.5H833.0M835.5 721.0V742.0M832.0 728.5H835.5M835.5 739.5H839.0M842.5 726.0V753.0M839.0 739.5H842.5M842.5 750.5H846.0M848.5 747.0V783.0M845.0 747.5H848.5M848.5 778.5H852.0M854.5 733.0V807.0M851.0 783.5H854.5M854.5 735.5H858.0M861.5 707.0V741.0M858.0 741.5H861.5M861.5 722.5H865.0M867.5 698.0V732.0M864.0 704.5H867.5M867.5 722.5H871.0M874.5 713.0V742.0M871.0 722.5H874.5M874.5 733.5H878.0M880.5 692.0V735.0M877.0 735.5H880.5M880.5 692.5H884.0M886.5 679.0V703.0M883.0 696.5H886.5M886.5 687.5H890.0M893.5 674.0V705.0M890.0 687.5H893.5M893.5 681.5H897.0M899.5 652.0V691.0M896.0 691.5H899.5M899.5 663.5H903.0M905.5 644.0V677.0M902.0 663.5H905.5M905.5 659.5H909.0M912.5 639.0V662.0M909.0 648.5H912.5M912.5 643.5H916.0M918.5 631.0V652.0M915.0 637.5H918.5M918.5 646.5H922.0M925.5 626.0V652.0M922.0 635.5H925.5M925.5 633.5H929.0M931.5 593.0V642.0M928.0 638.5H931.5M931.5 595.5H935.0M937.5 583.0V601.0M934.0 594.5H937.5M937.5 590.5H941.0M944.5 522.0V598.0M941.0 593.5H944.5M944.5 522.5H948.0M950.5 530.0V558.0M947.0 534.5H950.5M950.5 550.5H954.0M957.5 522.0V561.0M954.0 536.5H957.5M957.5 550.5H961.0M963.5 562.0V589.0M960.0 562.5H963.5M963.5 577.5H967.0M969.5 575.0V600.0M966.0 585.5H969.5M969.5 596.5H973.0M976.5 583.0V612.0M973.0 590.5H976.5M976.5 602.5H980.0M982.5 575.0V610.0M979.0 600.5H982.5M982.5 581.5H986.0M989.5 532.0V573.0M986.0 567.5H989.5M989.5 536.5H993.0M995.5 522.0V554.0M992.0 536.5H995.5M995.5 525.5H999.0M1001.5 512.0V570.0M998.0 525.5H1001.5M1001.5 554.5H1005.0M1008.5 533.0V584.0M1005.0 569.5H1008.5M1008.5 538.5H1012.0M1014.5 537.0V583.0M1011.0 541.5H1014.5M1014.5 556.5H1018.0M1021.5 532.0V570.0M1018.0 569.5H1021.5M1021.5 543.5H1025.0M1027.5 478.0V537.0M1024.0 537.5H1027.5M1027.5 482.5H1031.0M1033.5 448.0V505.0M1030.0 500.5H1033.5M1033.5 492.5H1037.0M1040.5 455.0V498.0M1037.0 493.5H1040.5M1040.5 467.5H1044.0M1046.5 437.0V487.0M1043.0 477.5H1046.5M1046.5 440.5H1050.0M1053.5 452.0V544.0M1050.0 482.5H1053.5M1053.5 537.5H1057.0M1059.5 504.0V565.0M1056.0 524.5H1059.5M1059.5 528.5H1063.0M1065.5 503.0V556.0M1062.0 518.5H1065.5M1065.5 532.5H1069.0M1072.5 501.0V535.0M1069.0 534.5H1072.5M1072.5 509.5H1076.0M1078.5 478.0V547.0M1075.0 497.5H1078.5M1078.5 541.5H1082.0M1084.5 518.0V552.0M1081.0 531.5H1084.5M1084.5 539.5H1088.0M1091.5 516.0V561.0M1088.0 537.5H1091.5M1091.5 539.5H1095.0M1097.5 524.0V554.0M1094.0 535.5H1097.5M1097.5 539.5H1101.0M1104.5 520.0V567.0M1101.0 541.5H1104.5M1104.5 531.5H1108.0M1110.5 508.0V549.0M1107.0 517.5H1110.5M1110.5 544.5H1114.0M1116.5 518.0V558.0M1113.0 540.5H1116.5M1116.5 553.5H1120.0M1123.5 552.0V590.0M1120.0 552.5H1123.5M1123.5 585.5H1127.0M1129.5 568.0V602.0M1126.0 589.5H1129.5M1129.5 575.5H1133.0M1136.5 527.0V581.0M1133.0 581.5H1136.5M1136.5 536.5H1140.0M1142.5 525.0V559.0M1139.0 528.5H1142.5M1142.5 544.5H1146.0M1148.5 539.0V572.0M1145.0 560.5H1148.5M1148.5 555.5H1152.0M1155.5 540.0V570.0M1152.0 564.5H1155.5M1155.5 561.5H1159.0M1161.5 478.0V566.0M1158.0 561.5H1161.5M1161.5 487.5H1165.0M1168.5 460.0V504.0M1165.0 494.5H1168.5M1168.5 466.5H1172.0M1174.5 463.0V519.0M1171.0 482.5H1174.5M1174.5 516.5H1178.0M1180.5 502.0V544.0M1177.0 518.5H1180.5M1180.5 540.5H1184.0M1187.5 486.0V546.0M1184.0 544.5H1187.5M1187.5 494.5H1191.0M1193.5 479.0V519.0M1190.0 497.5H1193.5M1193.5 499.5H1197.0M1200.5 498.0V539.0M1197.0 499.5H1200.5M1200.5 529.5H1204.0M1206.5 540.0V565.0M1203.0 547.5H1206.5M1206.5 545.5H1210.0M1212.5 547.0V604.0M1209.0 547.5H1212.5M1212.5 601.5H1216.0M1219.5 588.0V627.0M1216.0 604.5H1219.5M1219.5 626.5H1223.0M1225.5 601.0V640.0M1222.0 623.5H1225.5M1225.5 630.5H1229.0M1232.5 602.0V648.0M1229.0 641.5H1232.5M1232.5 622.5H1236.0M1238.5 600.0V637.0M1235.0 634.5H1238.5M1238.5 617.5H1242.0M1244.5 602.0V624.0M1241.0 623.5H1244.5M1244.5 605.5H1248.0M1251.5 597.0V628.0M1248.0 603.5H1251.5M1251.5 611.5H1255.0M1257.5 585.0V626.0M1254.0 620.5H1257.5M1257.5 595.5H1261.0M1263.5 595.0V655.0M1260.0 595.5H1263.5M1263.5 648.5H1267.0M1270.5 612.0V646.0M1267.0 637.5H1270.5M1270.5 633.5H1274.0M1276.5 582.0V644.0M1273.0 639.5H1276.5M1276.5 583.5H1280.0M1283.5 541.0V590.0M1280.0 586.5H1283.5M1283.5 556.5H1287.0M1289.5 520.0V589.0M1286.0 561.5H1289.5M1289.5 532.5H1293.0M1295.5 504.0V556.0M1292.0 529.5H1295.5M1295.5 522.5H1299.0M1302.5 508.0V546.0M1299.0 537.5H1302.5M1302.5 532.5H1306.0M1308.5 507.0V576.0M1305.0 531.5H1308.5M1308.5 567.5H1312.0M1315.5 532.0V578.0M1312.0 564.5H1315.5M1315.5 538.5H1319.0M1321.5 540.0V597.0M1318.0 550.5H1321.5M1321.5 592.5H1325.0M1327.5 577.0V603.0M1324.0 587.5H1327.5M1327.5 600.5H1331.0M1334.5 607.0V639.0M1331.0 610.5H1334.5M1334.5 625.5H1338.0M1340.5 609.0V637.0M1337.0 621.5H1340.5M1340.5 634.5H1344.0M1347.5 569.0V635.0M1344.0 634.5H1347.5M1347.5 573.5H1351.0M1353.5 559.0V596.0M1350.0 577.5H1353.5M1353.5 589.5H1357.0M1359.5 522.0V580.0M1356.0 580.5H1359.5M1359.5 552.5H1363.0M1366.5 535.0V564.0M1363.0 556.5H1366.5M1366.5 554.5H1370.0M1372.5 515.0V574.0M1369.0 558.5H1372.5M1372.5 556.5H1376.0M1379.5 536.0V581.0M1376.0 556.5H1379.5M1379.5 545.5H1383.0M1385.5 526.0V571.0M1382.0 552.5H1385.5M1385.5 533.5H1389.0M1391.5 525.0V557.0M1388.0 529.5H1391.5M1391.5 541.5H1395.0M1398.5 471.0V538.0M1395.0 536.5H1398.5M1398.5 484.5H1402.0M1404.5 452.0V489.0M1401.0 470.5H1404.5M1404.5 466.5H1408.0M1411.5 447.0V504.0M1408.0 463.5H1411.5M1411.5 498.5H1415.0M1417.5 484.0V537.0M1414.0 528.5H1417.5M1417.5 523.5H1421.0M1423.5 496.0V529.0M1420.0 523.5H1423.5M1423.5 510.5H1427.0M1430.5 497.0V528.0M1427.0 497.5H1430.5M1430.5 514.5H1434.0M1436.5 514.0V570.0M1433.0 514.5H1436.5M1436.5 541.5H1440.0M1442.5 528.0V565.0M1439.0 541.5H1442.5M1442.5 563.5H1446.0M1449.5 552.0V588.0M1446.0 564.5H1449.5M1449.5 582.5H1453.0M1455.5 555.0V593.0M1452.0 579.5H1455.5M1455.5 558.5H1459.0M1462.5 536.0V584.0M1459.0 576.5H1462.5M1462.5 550.5H1466.0M1468.5 494.0V570.0M1465.0 543.5H1468.5M1468.5 504.5H1472.0M1474.5 479.0V542.0M1471.0 508.5H1474.5M1474.5 491.5H1478.0M1481.5 412.0V504.0M1478.0 500.5H1481.5M1481.5 424.5H1485.0M1487.5 377.0V444.0M1484.0 425.5H1487.5M1487.5 385.5H1491.0M1494.5 370.0V413.0M1491.0 378.5H1494.5M1494.5 400.5H1498.0M1500.5 387.0V425.0M1497.0 412.5H1500.5M1500.5 395.5H1504.0M1506.5 329.0V438.0M1503.0 410.5H1506.5M1506.5 338.5H1510.0M1513.5 323.0V366.0M1510.0 332.5H1513.5M1513.5 355.5H1517.0M1519.5 353.0V389.0M1516.0 359.5H1519.5M1519.5 369.5H1523.0M1526.5 329.0V363.0M1523.0 359.5H1526.5M1526.5 354.5H1530.0M1532.5 356.0V408.0M1529.0 356.5H1532.5M1532.5 397.5H1536.0M1538.5 378.0V425.0M1535.0 391.5H1538.5M1538.5 397.5H1542.0M1545.5 403.0V455.0M1542.0 403.5H1545.5M1545.5 443.5H1549.0M1551.5 417.0V478.0M1548.0 426.5H1551.5M1551.5 467.5H1555.0M1558.5 452.0V591.0M1555.0 456.5H1558.5M1558.5 570.5H1562.0M1564.5 578.0V635.0M1561.0 581.5H1564.5M1564.5 635.5H1568.0" fill="none" stroke="#ffffff" stroke-width="1.15" /><line x1="1568.00" y1="634.50" x2="1635.00" y2="634.50" stroke="#e88a00" stroke-width="1" /><line x1="1635.50" y1="254.00" x2="1635.50" y2="1114.50" stroke="#ffffff" stroke-width="1" /><line x1="0.00" y1="1114.50" x2="1636.00" y2="1114.50" stroke="#ffffff" stroke-width="1" /><line x1="100.50" y1="1114.00" x2="100.50" y2="1118.00" stroke="#ffffff" stroke-width="1" /><line x1="241.50" y1="1114.00" x2="241.50" y2="1118.00" stroke="#ffffff" stroke-width="1" /><line x1="362.50" y1="1114.00" x2="362.50" y2="1118.00" stroke="#ffffff" stroke-width="1" /><line x1="490.50" y1="1114.00" x2="490.50" y2="1118.00" stroke="#ffffff" stroke-width="1" /><line x1="631.50" y1="1114.00" x2="631.50" y2="1118.00" stroke="#ffffff" stroke-width="1" /><line x1="765.50" y1="1114.00" x2="765.50" y2="1118.00" stroke="#ffffff" stroke-width="1" /><line x1="899.50" y1="1114.00" x2="899.50" y2="1118.00" stroke="#ffffff" stroke-width="1" /><line x1="1040.50" y1="1114.00" x2="1040.50" y2="1118.00" stroke="#ffffff" stroke-width="1" /><line x1="1168.50" y1="1114.00" x2="1168.50" y2="1118.00" stroke="#ffffff" stroke-width="1" /><line x1="1315.50" y1="1114.00" x2="1315.50" y2="1118.00" stroke="#ffffff" stroke-width="1" /><line x1="1449.50" y1="1114.00" x2="1449.50" y2="1118.00" stroke="#ffffff" stroke-width="1" /><line x1="1583.50" y1="1114.00" x2="1583.50" y2="1118.00" stroke="#ffffff" stroke-width="1" /><path d="M1636 292.5 L1643.7 296.5 L1636 300.5 Z" fill="#ffffff" stroke="none" stroke-width="1" /><text x="1644.61" y="301.60" font-family="Liberation Sans, sans-serif" font-size="13.66" fill="#ffffff" textLength="32.66" lengthAdjust="spacingAndGlyphs">3.600</text><path d="M1636 414.5 L1643.7 418.5 L1636 422.5 Z" fill="#ffffff" stroke="none" stroke-width="1" /><text x="1644.61" y="423.60" font-family="Liberation Sans, sans-serif" font-size="13.66" fill="#ffffff" textLength="32.66" lengthAdjust="spacingAndGlyphs">3.400</text><path d="M1636 535.5 L1643.7 539.5 L1636 543.5 Z" fill="#ffffff" stroke="none" stroke-width="1" /><text x="1644.61" y="544.60" font-family="Liberation Sans, sans-serif" font-size="13.66" fill="#ffffff" textLength="32.66" lengthAdjust="spacingAndGlyphs">3.200</text><path d="M1636 657.5 L1643.7 661.5 L1636 665.5 Z" fill="#ffffff" stroke="none" stroke-width="1" /><text x="1644.61" y="666.60" font-family="Liberation Sans, sans-serif" font-size="13.66" fill="#ffffff" textLength="32.66" lengthAdjust="spacingAndGlyphs">3.000</text><path d="M1636 779.5 L1643.7 783.5 L1636 787.5 Z" fill="#ffffff" stroke="none" stroke-width="1" /><text x="1644.34" y="788.60" font-family="Liberation Sans, sans-serif" font-size="13.66" fill="#ffffff" textLength="32.93" lengthAdjust="spacingAndGlyphs">2.800</text><path d="M1636 900.5 L1643.7 904.5 L1636 908.5 Z" fill="#ffffff" stroke="none" stroke-width="1" /><text x="1644.34" y="909.60" font-family="Liberation Sans, sans-serif" font-size="13.66" fill="#ffffff" textLength="32.93" lengthAdjust="spacingAndGlyphs">2.600</text><path d="M1636 1022.5 L1643.7 1026.5 L1636 1030.5 Z" fill="#ffffff" stroke="none" stroke-width="1" /><text x="1644.34" y="1031.60" font-family="Liberation Sans, sans-serif" font-size="13.66" fill="#ffffff" textLength="32.93" lengthAdjust="spacingAndGlyphs">2.400</text><line x1="1636.00" y1="357.50" x2="1639.50" y2="357.50" stroke="#ffffff" stroke-width="1" /><line x1="1636.00" y1="479.50" x2="1639.50" y2="479.50" stroke="#ffffff" stroke-width="1" /><line x1="1636.00" y1="600.50" x2="1639.50" y2="600.50" stroke="#ffffff" stroke-width="1" /><line x1="1636.00" y1="722.50" x2="1639.50" y2="722.50" stroke="#ffffff" stroke-width="1" /><line x1="1636.00" y1="844.50" x2="1639.50" y2="844.50" stroke="#ffffff" stroke-width="1" /><line x1="1636.00" y1="965.50" x2="1639.50" y2="965.50" stroke="#ffffff" stroke-width="1" /><line x1="1636.00" y1="1087.50" x2="1639.50" y2="1087.50" stroke="#ffffff" stroke-width="1" /><path d="M1636.8 634.5 L1642.9 626.1 H1680 V642.9 H1642.9 Z" fill="#ffffff" stroke="none" stroke-width="1" /><text x="1643.91" y="639.80" font-family="Liberation Sans, sans-serif" font-size="13.95" fill="#000" textLength="32.33" lengthAdjust="spacingAndGlyphs">3.044</text><text x="23.98" y="1129.30" font-family="Liberation Sans, sans-serif" font-size="14.54" fill="#e8e8e8" textLength="22.72" lengthAdjust="spacingAndGlyphs">Nov</text><text x="158.27" y="1129.30" font-family="Liberation Sans, sans-serif" font-size="14.54" fill="#e8e8e8" textLength="22.99" lengthAdjust="spacingAndGlyphs">Dec</text><text x="290.87" y="1129.30" font-family="Liberation Sans, sans-serif" font-size="14.54" fill="#e8e8e8" textLength="21.59" lengthAdjust="spacingAndGlyphs">Jan</text><text x="414.97" y="1129.30" font-family="Liberation Sans, sans-serif" font-size="14.54" fill="#e8e8e8" textLength="22.20" lengthAdjust="spacingAndGlyphs">Feb</text><text x="548.98" y="1129.30" font-family="Liberation Sans, sans-serif" font-size="14.54" fill="#e8e8e8" textLength="21.88" lengthAdjust="spacingAndGlyphs">Mar</text><text x="687.70" y="1129.30" font-family="Liberation Sans, sans-serif" font-size="14.54" fill="#e8e8e8" textLength="19.16" lengthAdjust="spacingAndGlyphs">Apr</text><text x="820.71" y="1129.30" font-family="Liberation Sans, sans-serif" font-size="14.54" fill="#e8e8e8" textLength="23.29" lengthAdjust="spacingAndGlyphs">May</text><text x="958.16" y="1129.30" font-family="Liberation Sans, sans-serif" font-size="14.54" fill="#e8e8e8" textLength="22.63" lengthAdjust="spacingAndGlyphs">Jun</text><text x="1094.85" y="1129.30" font-family="Liberation Sans, sans-serif" font-size="14.54" fill="#e8e8e8" textLength="19.29" lengthAdjust="spacingAndGlyphs">Jul</text><text x="1230.70" y="1129.30" font-family="Liberation Sans, sans-serif" font-size="14.54" fill="#e8e8e8" textLength="21.79" lengthAdjust="spacingAndGlyphs">Aug</text><text x="1370.51" y="1129.30" font-family="Liberation Sans, sans-serif" font-size="14.54" fill="#e8e8e8" textLength="21.73" lengthAdjust="spacingAndGlyphs">Sep</text><text x="1505.46" y="1129.30" font-family="Liberation Sans, sans-serif" font-size="14.54" fill="#e8e8e8" textLength="20.91" lengthAdjust="spacingAndGlyphs">Oct</text><text x="105.35" y="1145.00" font-family="Liberation Sans, sans-serif" font-size="14.54" fill="#e8e8e8" textLength="28.82" lengthAdjust="spacingAndGlyphs">2015</text><text x="923.35" y="1145.00" font-family="Liberation Sans, sans-serif" font-size="14.54" fill="#e8e8e8" textLength="29.13" lengthAdjust="spacingAndGlyphs">2016</text><line x1="241.50" y1="1131.70" x2="241.50" y2="1148.30" stroke="#bbbbbb" stroke-width="1" /><path d="M521.5 1027.5 L1441 366.5" fill="none" stroke="#00f000" stroke-width="5" /><path d="M1482.9 338.9 L1434.9 358.2 L1441.5 367.5 L1449.2 378 Z" fill="#00f000" stroke="none" stroke-width="1" /><path d="M1212 642.1 L1502 640.6" fill="none" stroke="#ffffff" stroke-width="5" /><path d="M1500.8 627.9 L1550.8 640.4 L1500.8 653.2 Z" fill="#ffffff" stroke="none" stroke-width="1" /><text x="953.04" y="373.70" font-family="Liberation Sans, sans-serif" font-size="47.09" fill="#ffffff" font-weight="bold" textLength="79.46" lengthAdjust="spacingAndGlyphs" stroke="#ffffff" stroke-width="1.0" stroke-linejoin="round">Big</text><text x="1050.00" y="373.70" font-family="Liberation Sans, sans-serif" font-size="47.09" fill="#ffffff" font-weight="bold" textLength="94.82" lengthAdjust="spacingAndGlyphs" stroke="#ffffff" stroke-width="1.0" stroke-linejoin="round">bull</text><text x="1160.11" y="373.70" font-family="Liberation Sans, sans-serif" font-size="47.09" fill="#ffffff" font-weight="bold" textLength="185.87" lengthAdjust="spacingAndGlyphs" stroke="#ffffff" stroke-width="1.0" stroke-linejoin="round">market!</text><text x="1180.49" y="719.40" font-family="Liberation Sans, sans-serif" font-size="45.35" fill="#ffffff" font-weight="bold" textLength="241.92" lengthAdjust="spacingAndGlyphs" stroke="#ffffff" stroke-width="1.0" stroke-linejoin="round">Correction</text><text x="1440.72" y="719.40" font-family="Liberation Sans, sans-serif" font-size="45.35" fill="#ffffff" font-weight="bold" textLength="114.14" lengthAdjust="spacingAndGlyphs" stroke="#ffffff" stroke-width="1.0" stroke-linejoin="round">right</text><text x="1222.68" y="770.30" font-family="Liberation Sans, sans-serif" font-size="45.35" fill="#ffffff" font-weight="bold" textLength="92.38" lengthAdjust="spacingAndGlyphs" stroke="#ffffff" stroke-width="1.0" stroke-linejoin="round">into</text><text x="1333.37" y="770.30" font-family="Liberation Sans, sans-serif" font-size="45.35" fill="#ffffff" font-weight="bold" textLength="177.27" lengthAdjust="spacingAndGlyphs" stroke="#ffffff" stroke-width="1.0" stroke-linejoin="round">support</text><text x="396.20" y="1213.45" font-family="Liberation Sans, sans-serif" font-size="46.22" fill="#ffffff" font-weight="bold" textLength="79.09" lengthAdjust="spacingAndGlyphs" stroke="#ffffff" stroke-width="1.1" stroke-linejoin="round">Nat</text><text x="495.77" y="1213.45" font-family="Liberation Sans, sans-serif" font-size="46.22" fill="#ffffff" font-weight="bold" textLength="83.88" lengthAdjust="spacingAndGlyphs" stroke="#ffffff" stroke-width="1.1" stroke-linejoin="round">Gas</text><text x="599.19" y="1213.45" font-family="Liberation Sans, sans-serif" font-size="46.22" fill="#ffffff" font-weight="bold" textLength="84.36" lengthAdjust="spacingAndGlyphs" stroke="#ffffff" stroke-width="1.1" stroke-linejoin="round">Dec</text><text x="704.58" y="1213.45" font-family="Liberation Sans, sans-serif" font-size="46.22" fill="#ffffff" font-weight="bold" textLength="123.99" lengthAdjust="spacingAndGlyphs" stroke="#ffffff" stroke-width="1.1" stroke-linejoin="round">2016</text><text x="850.02" y="1213.45" font-family="Liberation Sans, sans-serif" font-size="46.22" fill="#ffffff" font-weight="bold" textLength="100.77" lengthAdjust="spacingAndGlyphs" stroke="#ffffff" stroke-width="1.1" stroke-linejoin="round">over</text><text x="971.46" y="1213.45" font-family="Liberation Sans, sans-serif" font-size="46.22" fill="#ffffff" font-weight="bold" textLength="73.57" lengthAdjust="spacingAndGlyphs" stroke="#ffffff" stroke-width="1.1" stroke-linejoin="round">the</text><text x="1062.78" y="1213.45" font-family="Liberation Sans, sans-serif" font-size="46.22" fill="#ffffff" font-weight="bold" textLength="98.21" lengthAdjust="spacingAndGlyphs" stroke="#ffffff" stroke-width="1.1" stroke-linejoin="round">past</text><text x="1181.95" y="1213.45" font-family="Liberation Sans, sans-serif" font-size="46.22" fill="#ffffff" font-weight="bold" textLength="99.34" lengthAdjust="spacingAndGlyphs" stroke="#ffffff" stroke-width="1.1" stroke-linejoin="round">year</text><text x="1414.77" y="1226.70" font-family="Liberation Sans, sans-serif" font-size="17.44" fill="#ffffff" font-weight="bold" textLength="47.58" lengthAdjust="spacingAndGlyphs" stroke="#ffffff" stroke-width="0.4" stroke-linejoin="round">Chart</text><text x="1469.67" y="1226.70" font-family="Liberation Sans, sans-serif" font-size="17.44" fill="#ffffff" font-weight="bold" textLength="73.06" lengthAdjust="spacingAndGlyphs" stroke="#ffffff" stroke-width="0.4" stroke-linejoin="round">courtesy</text><text x="1550.47" y="1226.70" font-family="Liberation Sans, sans-serif" font-size="17.44" fill="#ffffff" font-weight="bold" textLength="16.71" lengthAdjust="spacingAndGlyphs" stroke="#ffffff" stroke-width="0.4" stroke-linejoin="round">of</text><text x="1574.11" y="1226.70" font-family="Liberation Sans, sans-serif" font-size="17.44" fill="#ffffff" font-weight="bold" textLength="96.00" lengthAdjust="spacingAndGlyphs" stroke="#ffffff" stroke-width="0.4" stroke-linejoin="round">Bloomberg</text><path d="M1453.6 36.2 L1458.2 42.8 L1453.6 49.8 M1457.7 36.2 L1462.3 42.8 L1457.7 49.8 M1461.8 36.2 L1466.4 42.8 L1461.8 49.8 M1465.9 36.2 L1470.5 42.8 L1465.9 49.8 M1458 42.8 L1490 42.6" fill="none" stroke="#f4f4f4" stroke-width="1.8" /><path d="M1490.3 22.5 V53 M1617.8 22.5 V51.4 M1618 33.2 H1638" fill="none" stroke="#f4f4f4" stroke-width="2.5" /><path d="M1636.8 33.1 L1645.5 24.2 L1657.8 31 L1645.5 38.6 Z" fill="#f4f4f4" stroke="none" stroke-width="1" /><text x="1504.92" y="38.80" font-family="Liberation Sans, sans-serif" font-size="36.19" fill="#f4f4f4" font-weight="bold" textLength="26.05" lengthAdjust="spacingAndGlyphs" stroke="#f4f4f4" stroke-width="1.1" stroke-linejoin="round">M</text><text x="1531.83" y="37.30" font-family="Liberation Sans, sans-serif" font-size="28.34" fill="#f4f4f4" font-weight="bold" textLength="16.99" lengthAdjust="spacingAndGlyphs" stroke="#f4f4f4" stroke-width="1.1" stroke-linejoin="round">A</text><text x="1550.67" y="35.59" font-family="Liberation Sans, sans-serif" font-size="21.77" fill="#f4f4f4" font-weight="bold" textLength="16.74" lengthAdjust="spacingAndGlyphs" stroke="#f4f4f4" stroke-width="1.1" stroke-linejoin="round">C</text><text x="1567.58" y="34.60" font-family="Liberation Sans, sans-serif" font-size="19.91" fill="#f4f4f4" font-weight="bold" textLength="13.44" lengthAdjust="spacingAndGlyphs" stroke="#f4f4f4" stroke-width="1.1" stroke-linejoin="round">R</text><text x="1581.59" y="32.98" font-family="Liberation Sans, sans-serif" font-size="17.54" fill="#f4f4f4" font-weight="bold" textLength="19.56" lengthAdjust="spacingAndGlyphs" stroke="#f4f4f4" stroke-width="1.1" stroke-linejoin="round">O</text><text x="1502.29" y="55.90" font-family="Liberation Sans, sans-serif" font-size="19.48" fill="#f4f4f4" font-weight="bold" textLength="12.73" lengthAdjust="spacingAndGlyphs" stroke="#f4f4f4" stroke-width="1.1" stroke-linejoin="round">T</text><text x="1516.24" y="57.35" font-family="Liberation Sans, sans-serif" font-size="19.18" fill="#f4f4f4" font-weight="bold" textLength="18.67" lengthAdjust="spacingAndGlyphs" stroke="#f4f4f4" stroke-width="1.1" stroke-linejoin="round">O</text><text x="1534.78" y="59.00" font-family="Liberation Sans, sans-serif" font-size="23.98" fill="#f4f4f4" font-weight="bold" textLength="17.05" lengthAdjust="spacingAndGlyphs" stroke="#f4f4f4" stroke-width="1.1" stroke-linejoin="round">U</text><text x="1555.11" y="60.10" font-family="Liberation Sans, sans-serif" font-size="26.60" fill="#f4f4f4" font-weight="bold" textLength="14.33" lengthAdjust="spacingAndGlyphs" stroke="#f4f4f4" stroke-width="1.1" stroke-linejoin="round">R</text><text x="1570.81" y="60.90" font-family="Liberation Sans, sans-serif" font-size="29.51" fill="#f4f4f4" font-weight="bold" textLength="7.81" lengthAdjust="spacingAndGlyphs" stroke="#f4f4f4" stroke-width="1.1" stroke-linejoin="round">I</text><text x="1579.10" y="61.05" font-family="Liberation Sans, sans-serif" font-size="28.20" fill="#f4f4f4" font-weight="bold" textLength="13.34" lengthAdjust="spacingAndGlyphs" stroke="#f4f4f4" stroke-width="1.1" stroke-linejoin="round">S</text><text x="1593.30" y="62.10" font-family="Liberation Sans, sans-serif" font-size="32.85" fill="#f4f4f4" font-weight="bold" textLength="12.32" lengthAdjust="spacingAndGlyphs" stroke="#f4f4f4" stroke-width="1.1" stroke-linejoin="round">T</text><path d="M1494.6 70.5 L1611.4 78.8" fill="none" stroke="#f4f4f4" stroke-width="1.6" /><path d="M1512 64.5 L1593.3 69.5 L1589.8 77.3 L1592.6 85.4 L1510.9 80.8 L1514.8 72.2 Z" fill="#f4f4f4" stroke="none" stroke-width="1" /><g transform="rotate(3.2 1552 75)"><text x="1517.72" y="79.60" font-family="Liberation Sans, sans-serif" font-size="12.50" fill="#111" font-weight="bold" textLength="67.99" lengthAdjust="spacingAndGlyphs">DAILY LETTER</text></g></svg></body></html>
